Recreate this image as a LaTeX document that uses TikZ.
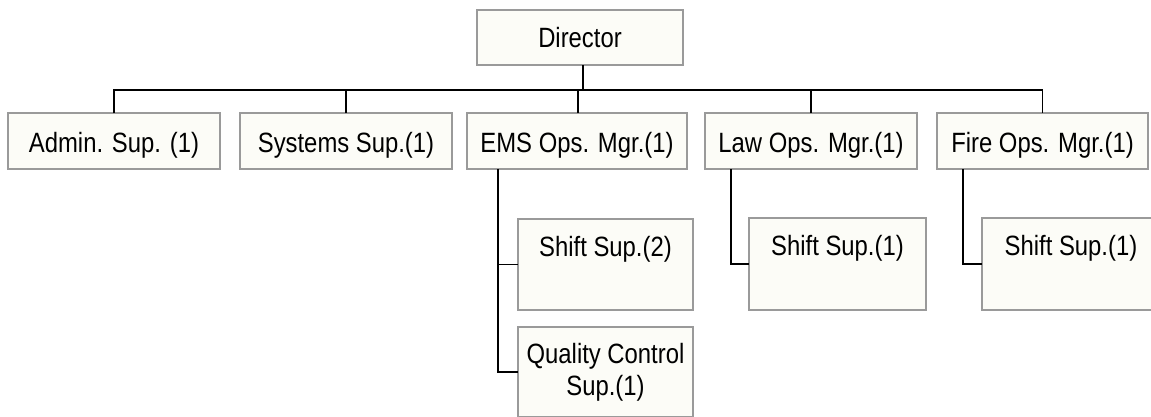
\documentclass[tikz,border=0pt]{standalone}
\usepackage{fontspec}
\setmainfont{Liberation Sans}[FakeStretch=0.855]
\definecolor{boxfill}{HTML}{FCFCF7}
\definecolor{boxline}{HTML}{9A9A9A}
\begin{document}
\begin{tikzpicture}[x=1pt,y=-1pt,
  box/.style={draw=boxline, fill=boxfill, line width=1.5pt, rectangle, inner sep=0pt, outer sep=0pt},
  lbl/.style={font=\fontsize{27.9}{32}\selectfont, inner sep=0pt, align=center, anchor=base},
  conn/.style={draw=black, line width=1.3pt}]
\useasboundingbox (0,0) rectangle (1151,416);
\clip (0,0) rectangle (1151,416);
% top
\node[box, minimum width=206pt, minimum height=55pt] (dir) at (580,37.5) {};
\node[lbl] (dirt) at ([yshift=-9.5pt]dir.center) {Director};
% row
\node[box, minimum width=212pt, minimum height=56pt] (admin) at (114,141) {};
\node[box, minimum width=212pt, minimum height=56pt] (sys) at (346,141) {};
\node[box, minimum width=220pt, minimum height=56pt] (ems) at (577,141) {};
\node[box, minimum width=212pt, minimum height=56pt] (law) at (811,141) {};
\node[box, minimum width=211pt, minimum height=56pt] (fire) at (1042.5,141) {};
\node[lbl] (admint) at ([yshift=-11.5pt]admin.center) {Admin. Sup. (1)};
\node[lbl] (syst) at ([yshift=-11.5pt]sys.center) {Systems Sup.(1)};
\node[lbl] (emst) at ([yshift=-11.5pt]ems.center) {EMS Ops. Mgr.(1)};
\node[lbl] (lawt) at ([yshift=-11.5pt]law.center) {Law Ops. Mgr.(1)};
\node[lbl] (firet) at ([yshift=-11.5pt]fire.center) {Fire Ops. Mgr.(1)};
% sub boxes
\node[box, minimum width=175pt, minimum height=91pt] (s2) at (605.5,264.5) {};
\node[lbl] (s2t) at ([yshift=-37pt]s2.north) {Shift Sup.(2)};
\node[box, minimum width=175pt, minimum height=90pt] (qc) at (605.5,372) {};
\node[lbl] (qct) at ([yshift=-68pt]qc.north) {Quality Control\\Sup.(1)};
\node[box, minimum width=177pt, minimum height=92pt] (ls) at (837.5,264) {};
\node[lbl] (lst) at ([yshift=-37pt]ls.north) {Shift Sup.(1)};
\node[box, minimum width=178pt, minimum height=92pt] (fs) at (1071,264) {};
\node[lbl] (fst) at ([yshift=-37pt]fs.north) {Shift Sup.(1)};
% connectors
\coordinate (bus) at (0,90);
\draw[conn] ([xshift=3pt]dir.south) -- ([xshift=3pt]dir.south |- bus);
\draw[conn] (admin.north) -- (admin.north |- bus) -- (fire.north |- bus) -- (fire.north);
\draw[conn] (sys.north) -- (sys.north |- bus);
\draw[conn] ([xshift=1pt]ems.north) -- ([xshift=1pt]ems.north |- bus);
\draw[conn] (law.north) -- (law.north |- bus);
\coordinate (emsd) at ([xshift=31pt]ems.south west);
\draw[conn] (emsd) |- (s2.west);
\draw[conn] (emsd) |- (qc.west);
\coordinate (lawd) at ([xshift=26pt]law.south west);
\draw[conn] (lawd) |- (ls.west);
\coordinate (fired) at ([xshift=26pt]fire.south west);
\draw[conn] (fired) |- (fs.west);
\end{tikzpicture}
\end{document}
